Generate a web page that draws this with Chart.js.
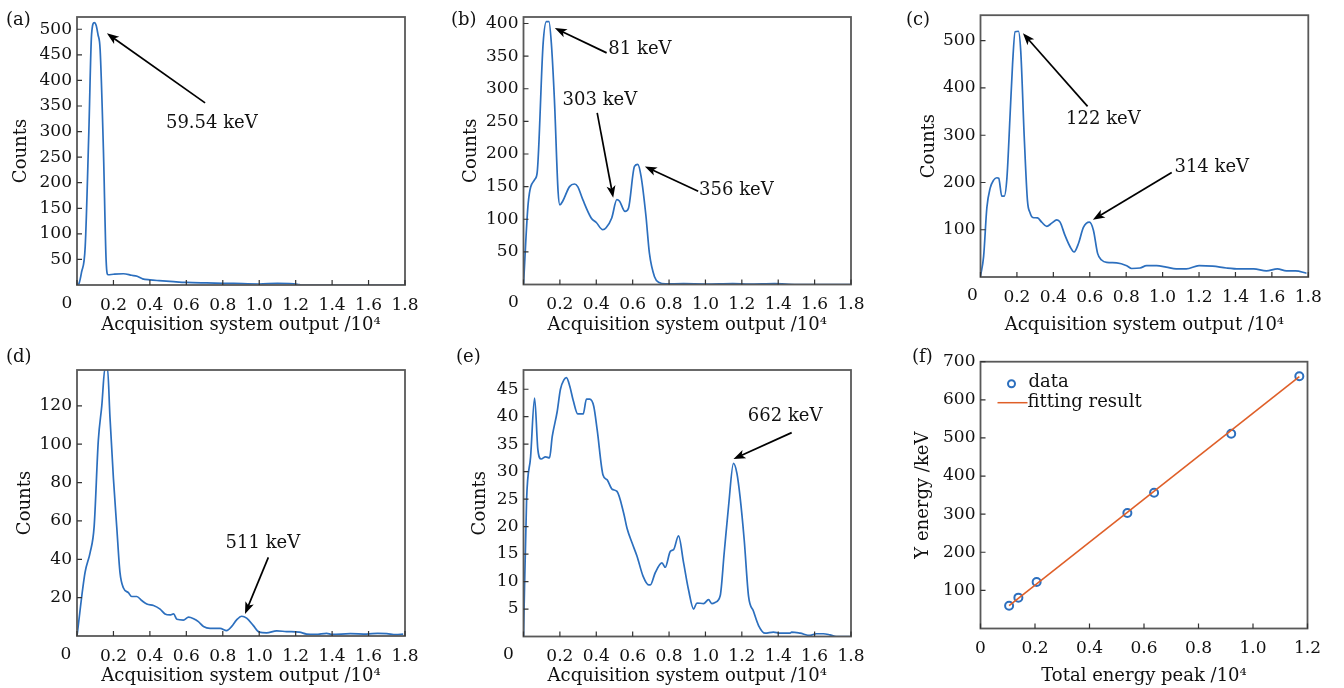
<!DOCTYPE html>
<html>
<head>
<meta charset="utf-8">
<script src="https://cdn.jsdelivr.net/npm/chart.js@4.4.1/dist/chart.umd.min.js"></script>
<style>
  html, body { margin: 0; padding: 0; background: #fff; }
  body { width: 1344px; height: 688px; position: relative; overflow: hidden; font-family: "DejaVu Serif", serif; }
  canvas { position: absolute; }
  .tag { position: absolute; font-size: 18px; line-height: 20px; color: #111; }
</style>
</head>
<body>
<canvas id="cA" width="448" height="340" style="left:0;top:0"></canvas>
<canvas id="cB" width="448" height="340" style="left:448px;top:0"></canvas>
<canvas id="cC" width="448" height="340" style="left:896px;top:0"></canvas>
<canvas id="cD" width="448" height="348" style="left:0;top:340px"></canvas>
<canvas id="cE" width="448" height="348" style="left:448px;top:340px"></canvas>
<canvas id="cF" width="448" height="348" style="left:896px;top:340px"></canvas>
<div class="tag" style="left:6px;top:9px">(a)</div>
<div class="tag" style="left:451px;top:9px">(b)</div>
<div class="tag" style="left:906px;top:9px">(c)</div>
<div class="tag" style="left:6px;top:346px">(d)</div>
<div class="tag" style="left:456px;top:346px">(e)</div>
<div class="tag" style="left:912px;top:346px">(f)</div>
<script>
// tick values
const spectrumXTicks = [0, 0.2, 0.4, 0.6, 0.8, 1.0, 1.2, 1.4, 1.6, 1.8];
const fitXTicks = [0, 0.2, 0.4, 0.6, 0.8, 1.0, 1.2];
const yTicksA = [50, 100, 150, 200, 250, 300, 350, 400, 450, 500];
const yTicksB = [50, 100, 150, 200, 250, 300, 350, 400];
const yTicksC = [100, 200, 300, 400, 500];
const yTicksD = [20, 40, 60, 80, 100, 120];
const yTicksE = [5, 10, 15, 20, 25, 30, 35, 40, 45];
const yTicksF = [100, 200, 300, 400, 500, 600, 700];

// (a)
const xA = [0, 0.01, 0.025, 0.045, 0.065, 0.08, 0.095, 0.105, 0.115, 0.127, 0.145, 0.16, 0.17, 0.2, 0.255, 0.3, 0.33, 0.36, 0.4, 0.45, 0.53, 0.6, 0.71, 0.86, 1.0, 1.1, 1.21, 1.23, 1.5, 1.8];
const yA = [0, 2, 25, 75, 300, 490, 513, 508, 490, 460, 264, 47, 20, 21, 22, 19, 17, 12, 10, 8.5, 6.5, 5, 4, 3, 2, 3, 1.5, 0, 0, 0];

// (b)
const xB = [0, 0.026, 0.062, 0.075, 0.108, 0.126, 0.14, 0.153, 0.17, 0.19, 0.2, 0.216, 0.253, 0.28, 0.298, 0.326, 0.372, 0.4, 0.436, 0.454, 0.485, 0.513, 0.527, 0.558, 0.577, 0.61, 0.628, 0.646, 0.673, 0.692, 0.72, 0.745, 0.78, 0.88, 1.0, 1.15, 1.24, 1.38, 1.5, 1.8];
const yB = [0, 125, 161, 171, 370, 403, 403, 370, 283, 143, 122, 128, 150, 154, 150, 130, 102, 95, 84, 87, 102, 130, 128, 112, 117, 181, 184, 166, 105, 48, 12, 3, 1, 1.3, 0.8, 1.5, 0.5, 1.3, 0, 0];

// (c)
const xC = [0, 0.017, 0.035, 0.053, 0.072, 0.09, 0.1, 0.117, 0.13, 0.145, 0.163, 0.176, 0.19, 0.208, 0.221, 0.24, 0.258, 0.272, 0.287, 0.313, 0.336, 0.364, 0.391, 0.419, 0.437, 0.464, 0.492, 0.514, 0.538, 0.565, 0.598, 0.62, 0.643, 0.665, 0.693, 0.748, 0.803, 0.83, 0.876, 0.912, 0.967, 1.02, 1.075, 1.13, 1.2, 1.275, 1.35, 1.42, 1.5, 1.57, 1.63, 1.68, 1.73, 1.79];
const yC = [2, 43, 147, 188, 205, 210, 209, 171, 171, 209, 347, 450, 519, 520, 478, 298, 161, 136, 126, 125, 116, 107, 114, 121, 116, 88, 64, 53, 71, 105, 116, 99, 50, 36, 31, 30, 24, 18, 19, 24, 24, 21, 17, 17, 24, 23, 19, 17, 17, 13, 17, 13, 13, 8];

// (d)
const xD = [0, 0.044, 0.072, 0.094, 0.117, 0.136, 0.154, 0.167, 0.181, 0.2, 0.218, 0.236, 0.255, 0.282, 0.3, 0.328, 0.355, 0.383, 0.42, 0.456, 0.483, 0.51, 0.53, 0.548, 0.584, 0.612, 0.64, 0.666, 0.694, 0.73, 0.785, 0.821, 0.849, 0.876, 0.904, 0.931, 0.968, 1.0, 1.04, 1.096, 1.15, 1.22, 1.26, 1.31, 1.37, 1.4, 1.5, 1.59, 1.65, 1.7, 1.75, 1.79];
const yD = [0, 33, 43.5, 57, 102, 120, 140, 140, 114, 82, 57, 33, 25, 22.6, 20.6, 20.6, 18.5, 16.7, 15.9, 14, 11.5, 11, 11.5, 8.7, 8.3, 9.8, 9, 7.5, 5, 4, 4, 2.8, 5, 8.4, 10.3, 9.3, 5.4, 2, 1.6, 2.7, 2.3, 2, 1, 0.8, 1.4, 0.8, 1.2, 1, 1.4, 1.2, 0.7, 1];

// (e)
const xE = [0, 0.017, 0.039, 0.061, 0.079, 0.097, 0.121, 0.143, 0.158, 0.185, 0.203, 0.222, 0.236, 0.254, 0.273, 0.298, 0.328, 0.346, 0.364, 0.386, 0.405, 0.437, 0.46, 0.487, 0.514, 0.551, 0.569, 0.597, 0.624, 0.657, 0.688, 0.697, 0.724, 0.761, 0.779, 0.807, 0.825, 0.852, 0.88, 0.907, 0.935, 0.953, 0.99, 1.017, 1.035, 1.053, 1.081, 1.103, 1.127, 1.154, 1.173, 1.19, 1.213, 1.237, 1.264, 1.292, 1.328, 1.374, 1.41, 1.465, 1.474, 1.52, 1.575, 1.61, 1.648, 1.684, 1.72, 1.794];
const yE = [0, 24.9, 32.7, 43.4, 34, 32.3, 32.7, 32.5, 36.4, 40.9, 45, 46.7, 47.1, 45.6, 43, 40.5, 40.5, 43.2, 43.2, 41.9, 37.6, 29.4, 28.5, 26.8, 26.4, 22.4, 19.7, 17, 14.6, 11, 9.4, 9.4, 11.6, 13.4, 12.6, 15.5, 15.8, 18.3, 13.4, 8.5, 5, 6.1, 6, 6.7, 6, 6.2, 7.4, 15.2, 23.7, 31.5, 29.7, 25.5, 17.6, 7.3, 4.6, 2, 0.6, 0.8, 0.6, 0.6, 0.8, 0.6, 0.2, 0.5, 0.5, 0.3, 0, 0];

// (f) calibration
const peakX = [0.105, 0.139, 0.206, 0.539, 0.637, 0.92, 1.17];
const peakE = [59.54, 81, 122, 303, 356, 511, 662];
const fitX = [0.105, 1.17];
const fitY = [60, 661];

const BLUE = "#2c6fbe";
const ORANGE = "#df5f28";
const INK = "#111";
const FONT = "DejaVu Serif";

const pts = (xs, ys) => xs.map((x, i) => ({ x: x, y: ys[i] }));

function arrow(ctx, x1, y1, x2, y2) {
  const a = Math.atan2(y2 - y1, x2 - x1);
  const L = 12, W = 4.5;
  const c = Math.cos(a), s = Math.sin(a);
  ctx.beginPath();
  ctx.moveTo(x1, y1);
  ctx.lineTo(x2 - L * 0.7 * c, y2 - L * 0.7 * s);
  ctx.stroke();
  ctx.beginPath();
  ctx.moveTo(x2, y2);
  ctx.lineTo(x2 - L * c + W * s, y2 - L * s - W * c);
  ctx.lineTo(x2 - L * 0.75 * c, y2 - L * 0.75 * s);
  ctx.lineTo(x2 - L * c - W * s, y2 - L * s + W * c);
  ctx.closePath();
  ctx.fill();
}

// box, inward ticks, arrows, notes and the legend of (f)
const decor = {
  id: "decor",
  afterDraw(chart, args, opts) {
    const { ctx, chartArea: a, scales: { x, y } } = chart;
    ctx.save();
    ctx.strokeStyle = "#595959";
    ctx.lineWidth = 1.8;
    ctx.strokeRect(a.left, a.top, a.right - a.left, a.bottom - a.top);
    ctx.lineWidth = 1.2;
    ctx.strokeStyle = "#333";
    ctx.beginPath();
    x.ticks.forEach(t => {
      const px = x.getPixelForValue(t.value);
      ctx.moveTo(px, a.bottom); ctx.lineTo(px, a.bottom - 5);
    });
    y.ticks.forEach(t => {
      const py = y.getPixelForValue(t.value);
      ctx.moveTo(a.left, py); ctx.lineTo(a.left + 5, py);
    });
    ctx.stroke();

    ctx.fillStyle = INK;
    ctx.font = "17px " + FONT;
    if (opts.zeroShift) {
      ctx.textAlign = "center";
      ctx.textBaseline = "top";
      ctx.fillText("0", x.getPixelForValue(0) - opts.zeroShift, a.bottom + 10);
    }

    ctx.font = "18px " + FONT;
    ctx.strokeStyle = "#000";
    ctx.fillStyle = "#000";
    ctx.lineWidth = 1.7;
    (opts.notes || []).forEach(n => {
      arrow(ctx, x.getPixelForValue(n.from[0]), y.getPixelForValue(n.from[1]),
                 x.getPixelForValue(n.to[0]), y.getPixelForValue(n.to[1]));
      ctx.fillStyle = INK;
      ctx.textAlign = "center";
      ctx.textBaseline = "middle";
      ctx.fillText(n.text, x.getPixelForValue(n.at[0]), y.getPixelForValue(n.at[1]));
      ctx.fillStyle = "#000";
    });

    if (opts.legend) {
      const lx = a.left, ly = a.top;
      ctx.lineWidth = 2;
      ctx.strokeStyle = BLUE;
      ctx.beginPath();
      ctx.arc(lx + 31, ly + 22, 3.5, 0, Math.PI * 2);
      ctx.stroke();
      ctx.strokeStyle = ORANGE;
      ctx.lineWidth = 1.5;
      ctx.beginPath();
      ctx.moveTo(lx + 17, ly + 41); ctx.lineTo(lx + 47, ly + 41);
      ctx.stroke();
      ctx.fillStyle = INK;
      ctx.textAlign = "left";
      ctx.textBaseline = "middle";
      ctx.fillText("data", lx + 48, ly + 21);
      ctx.fillText("fitting result", lx + 47, ly + 41);
    }
    ctx.restore();
  }
};

function makeChart(id, cfg) {
  const canvas = document.getElementById(id);
  const W = canvas.width, H = canvas.height;
  const [l, t, r, b] = cfg.area;
  return new Chart(canvas, {
    type: "scatter",
    data: { datasets: cfg.datasets },
    options: {
      responsive: false,
      animation: false,
      events: [],
      layout: { padding: { left: 0, top: t, right: W - r, bottom: 0 } },
      plugins: {
        legend: { display: false },
        tooltip: { enabled: false },
        decor: { notes: cfg.notes, zeroShift: cfg.zeroShift, legend: cfg.legend }
      },
      scales: {
        x: {
          type: "linear",
          min: cfg.xMin,
          max: cfg.xMax,
          afterFit: s => { s.height = H - b; },
          afterBuildTicks: s => { s.ticks = cfg.xTicks.map(v => ({ value: v })); },
          grid: { display: false, drawTicks: false },
          border: { display: false },
          ticks: {
            padding: 10,
            maxRotation: 0,
            autoSkip: false,
            color: INK,
            font: { family: FONT, size: 17 },
            callback: v => (v === 0 ? (cfg.zeroShift ? "" : "0") : v.toFixed(1))
          },
          title: {
            display: true,
            text: cfg.xTitle,
            color: INK,
            font: { family: FONT, size: 18 },
            padding: { top: 0, bottom: cfg.xTitlePad }
          }
        },
        y: {
          type: "linear",
          min: 0,
          max: cfg.yMax,
          afterFit: s => { s.width = l; },
          afterBuildTicks: s => { s.ticks = cfg.yTicks.map(v => ({ value: v })); },
          grid: { display: false, drawTicks: false },
          border: { display: false },
          ticks: {
            padding: 5,
            autoSkip: false,
            color: INK,
            font: { family: FONT, size: 17 },
            callback: v => String(v)
          },
          title: {
            display: true,
            text: cfg.yTitle,
            color: INK,
            font: { family: FONT, size: 18 },
            padding: { top: cfg.yTitlePad, bottom: 0 }
          }
        }
      }
    },
    plugins: [decor]
  });
}

function spectrum(xs, ys) {
  return [{
    data: pts(xs, ys),
    showLine: true,
    borderColor: BLUE,
    borderWidth: 1.7,
    pointRadius: 0,
    cubicInterpolationMode: "monotone"
  }];
}

const xTitleSpec = "Acquisition system output /10\u2074";

makeChart("cA", {
  area: [77, 17, 405, 285], xMin: 0, xMax: 1.8, yMax: 524,
  xTicks: spectrumXTicks, yTicks: yTicksA, zeroShift: 10,
  xTitle: xTitleSpec, yTitle: "Counts", xTitlePad: 4, yTitlePad: 11,
  datasets: spectrum(xA, yA),
  notes: [{ text: "59.54 keV", at: [0.74, 316], from: [0.703, 356], to: [0.164, 492] }]
});

makeChart("cB", {
  area: [75.5, 17, 403, 284.5], xMin: 0, xMax: 1.8, yMax: 410,
  xTicks: spectrumXTicks, yTicks: yTicksB, zeroShift: 10,
  xTitle: xTitleSpec, yTitle: "Counts", xTitlePad: 4, yTitlePad: 13,
  datasets: spectrum(xB, yB),
  notes: [
    { text: "81 keV", at: [0.64, 360], from: [0.457, 355], to: [0.172, 393] },
    { text: "303 keV", at: [0.42, 283], from: [0.405, 263], to: [0.493, 133] },
    { text: "356 keV", at: [1.17, 145], from: [0.96, 143], to: [0.667, 181] }
  ]
});

makeChart("cC", {
  area: [84.5, 10, 412.3, 277], xMin: 0, xMax: 1.8, yMax: 554,
  xTicks: spectrumXTicks, yTicks: yTicksC, zeroShift: 8,
  xTitle: xTitleSpec, yTitle: "Counts", xTitlePad: 4, yTitlePad: 23,
  datasets: spectrum(xC, yC),
  notes: [
    { text: "122 keV", at: [0.675, 333], from: [0.588, 361], to: [0.233, 516] },
    { text: "314 keV", at: [1.27, 233], from: [1.05, 221], to: [0.617, 121] }
  ]
});

makeChart("cD", {
  area: [77, 30, 405, 296], xMin: 0, xMax: 1.8, yMax: 138.7,
  xTicks: spectrumXTicks, yTicks: yTicksD, zeroShift: 11,
  xTitle: xTitleSpec, yTitle: "Counts", xTitlePad: 1, yTitlePad: 15,
  datasets: spectrum(xD, yD),
  notes: [{ text: "511 keV", at: [1.02, 48.4], from: [1.05, 41], to: [0.922, 11.5] }]
});

makeChart("cE", {
  area: [75.5, 30, 403, 296.5], xMin: 0, xMax: 1.8, yMax: 48.5,
  xTicks: spectrumXTicks, yTicks: yTicksE, zeroShift: 15,
  xTitle: xTitleSpec, yTitle: "Counts", xTitlePad: 1, yTitlePad: 22,
  datasets: spectrum(xE, yE),
  notes: [{ text: "662 keV", at: [1.438, 40.1], from: [1.474, 37.1], to: [1.154, 32.3] }]
});

makeChart("cF", {
  area: [84.5, 21.7, 411.5, 288.5], xMin: 0, xMax: 1.2, yMax: 700,
  xTicks: fitXTicks, yTicks: yTicksF, zeroShift: 0,
  xTitle: "Total energy peak /10\u2074", yTitle: "Y energy /keV", xTitlePad: 1, yTitlePad: 17,
  legend: true,
  datasets: [
    {
      data: pts(fitX, fitY),
      showLine: true,
      borderColor: ORANGE,
      borderWidth: 1.6,
      pointRadius: 0
    },
    {
      data: pts(peakX, peakE),
      showLine: false,
      pointRadius: 4,
      pointBorderWidth: 2,
      pointBorderColor: BLUE,
      pointBackgroundColor: "rgba(0,0,0,0)"
    }
  ]
});
</script>
</body>
</html>
